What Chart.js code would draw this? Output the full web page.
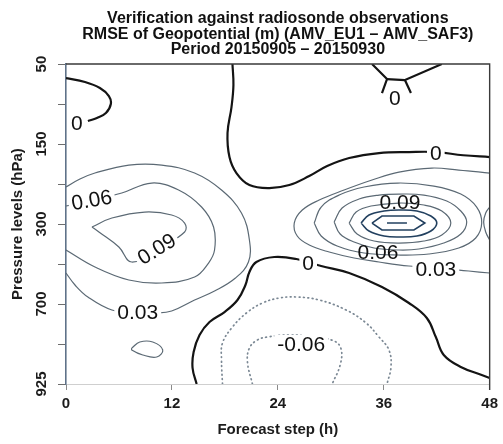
<!DOCTYPE html>
<html lang="en">
<head>
<meta charset="UTF-8">
<title>RMSE of Geopotential - AMV_EU1 vs AMV_SAF3</title>
<style>
  body { margin: 0; background: #fff; }
  #wrap { width: 503px; height: 444px; }
</style>
</head>
<body>
<div id="wrap"><canvas id="rmseChart"></canvas></div>
<script src="https://cdn.jsdelivr.net/npm/chart.js"></script>
<script>
// axes: forecast step in hours, pressure levels as an index (0 = 50 hPa at the top)
const stepTicks = [0, 12, 24, 36, 48];
const levelLabels = ['50', '', '150', '', '300', '', '700', '', '925'];

// contour lines, each point is [forecast step, level index]
const zeroTopLeft = [[0, 0.35], [2.15, 0.45], [3.84, 0.6], [4.86, 0.8], [5.08, 1.0], [4.52, 1.225], [3.5, 1.35], [2.48, 1.425]];
const zeroTop = [[18.86, 0], [18.97, 0.525], [18.75, 1.075], [18.3, 1.725], [18.52, 2.325], [19.31, 2.725], [20.78, 3.025],
  [23.04, 3.1], [25.3, 3.025], [27.56, 2.8], [29.59, 2.55], [32.08, 2.35], [35.46, 2.225], [38.85, 2.2], [41.9, 2.2],
  [45, 2.28], [48, 2.325]];
const zeroCapLeft = [[34.67, 0], [36.37, 0.375], [35.8, 0.725]];
const zeroCapBar = [[36.37, 0.375], [38.4, 0.4]];
const zeroCapRight = [[39.08, 0.725], [38.4, 0.4], [42.58, 0]];
const zeroLower = [[14.8, 8], [14.34, 7.6], [14.46, 7.2], [15.13, 6.775], [16.26, 6.45], [17.96, 6.2], [19.43, 5.9],
  [20.33, 5.525], [20.78, 5.2], [21.57, 4.95], [23.6, 4.825], [26.09, 4.875], [28.91, 5.05], [32.08, 5.225],
  [35.8, 5.575], [38.85, 5.975], [40.88, 6.35], [41.9, 6.825], [42.8, 7.275], [44.73, 7.575], [47.1, 7.775], [48, 7.85]];

const left03 = [[0, 3.075], [1.58, 2.875], [3.28, 2.725], [7.12, 2.525], [10.84, 2.525], [14.57, 2.725], [17.62, 3.15],
  [19.88, 3.725], [20.78, 4.4], [20.67, 4.95], [19.2, 5.35], [16.83, 5.675], [14.57, 5.9], [11.97, 6.175],
  [10.05, 6.225], [8.13, 6.225], [5.2, 6.15], [2.48, 5.825], [1.02, 5.525], [0, 5.225]];
const left06 = [[0, 3.55], [3.16, 3.4], [6.32, 3.225], [9.71, 2.975], [12.76, 3.15], [15.36, 3.575], [16.72, 4.075],
  [16.83, 4.65], [16.15, 4.975], [14.57, 5.325], [10.84, 5.475], [7.12, 5.4], [3.28, 5.075], [0, 4.65]];
const left09 = [[2.94, 4.075], [5.2, 3.85], [8.92, 3.7], [11.97, 3.775], [13.44, 3.975], [13.44, 4.2], [10.62, 4.6],
  [7.45, 4.95], [5.99, 4.575], [3.73, 4.2], [2.94, 4.075]];
const leftBlob = [[7.45, 7.1], [8.36, 6.95], [9.83, 6.95], [10.96, 7.15], [10.28, 7.325], [8.7, 7.275], [7.45, 7.15], [7.45, 7.1]];

const right03 = [[48, 2.725], [44.5, 2.65], [41.45, 2.6], [37.72, 2.7], [34.67, 2.9], [31.51, 3.15], [28.69, 3.4],
  [26.77, 3.65], [25.86, 3.975], [26.2, 4.3], [27.56, 4.525], [29.82, 4.7], [32.64, 4.85], [35.46, 4.95],
  [38.85, 5.05], [42.24, 5.1], [45.63, 5.175], [48, 5.225]];
const ring06 = [[28.12, 3.975], [28.91, 3.575], [30.95, 3.275], [33.77, 3.075], [37.61, 2.975], [41.68, 3.05], [44.73, 3.25],
  [46.53, 3.575], [47.1, 3.975], [46.42, 4.35], [44.5, 4.6], [41.11, 4.75], [37.61, 4.775], [33.77, 4.725],
  [30.72, 4.55], [28.91, 4.3], [28.12, 3.975]];
const ring09 = [[30.38, 3.95], [31.28, 3.6], [33.2, 3.375], [35.46, 3.275], [37.72, 3.25], [40.55, 3.275], [43.14, 3.425],
  [44.73, 3.675], [45.4, 3.95], [44.73, 4.25], [42.8, 4.475], [39.98, 4.625], [37.72, 4.65], [34.9, 4.6],
  [32.64, 4.45], [31.06, 4.25], [30.38, 3.95]];
const ring12 = [[32.08, 3.975], [32.87, 3.7], [34.56, 3.55], [37.72, 3.475], [40.55, 3.525], [42.58, 3.675], [43.6, 3.975],
  [42.58, 4.275], [40.55, 4.425], [37.72, 4.475], [34.9, 4.425], [32.98, 4.25], [32.08, 3.975]];
const ring15 = [[33.43, 3.975], [34.33, 3.775], [36.03, 3.675], [37.72, 3.65], [39.76, 3.675], [41.34, 3.8], [42.01, 3.975],
  [41.34, 4.175], [39.76, 4.3], [37.72, 4.325], [36.03, 4.3], [34.33, 4.175], [33.43, 3.975]];
const ring18 = [[34.67, 3.975], [35.8, 3.8], [39.42, 3.8], [40.66, 3.975], [39.42, 4.15], [35.8, 4.15], [34.67, 3.975]];
const ring21 = [[36.37, 3.975], [38.63, 3.975]];
const rightEdge = [[48, 3.575], [47.55, 3.725], [47.32, 3.95], [47.55, 4.2], [48, 4.4]];

const neg03 = [[17.73, 8], [17.62, 7.4], [17.73, 6.975], [18.86, 6.575], [20.44, 6.225], [22.25, 5.975], [24.17, 5.85],
  [26.09, 5.825], [28.69, 5.9], [31.74, 6.15], [34, 6.475], [35.46, 6.825], [36.59, 7.15], [36.82, 7.575], [36.37, 8]];
const neg06 = [[21.12, 8], [20.56, 7.45], [20.78, 7.1], [21.68, 6.9], [22.81, 6.825], [25.3, 6.775], [28.12, 6.825],
  [30.38, 6.925], [31.17, 7.125], [31.06, 7.525], [30.16, 8]];

// contour value of every line
const contours = [
  [0, zeroTopLeft], [0, zeroTop], [0, zeroCapLeft], [0, zeroCapBar], [0, zeroCapRight], [0, zeroLower],
  [0.03, left03], [0.06, left06], [0.09, left09], [0.03, leftBlob],
  [0.03, right03], [0.06, ring06], [0.09, ring09], [0.12, ring12], [0.15, ring15], [0.18, ring18], [0.21, ring21],
  [0.03, rightEdge], [-0.03, neg03], [-0.06, neg06]
];
// straight segments (hexagon and the small cap near the top)
const straight = [zeroCapLeft, zeroCapBar, zeroCapRight, ring18, ring21];

// inline labels: text, step, level index, angle (deg), cut the line under it
const contourLabels = [
  ['0', 1.24, 1.475, 0, true],
  ['0', 37.27, 0.85, 0, true],
  ['0', 41.9, 2.225, 0, true],
  ['0', 27.44, 4.975, 0, true],
  ['0.06', 2.9, 3.4, -10, true],
  ['0.09', 10.28, 4.625, -32, true],
  ['0.03', 8.13, 6.2, 0, true],
  ['0.09', 37.83, 3.45, 0, false],
  ['0.06', 35.35, 4.7, 0, false],
  ['0.03', 41.9, 5.125, 0, true],
  ['-0.06', 26.65, 7.0, 0, true]
];

const FONT = "'Liberation Sans', Arial, Helvetica, sans-serif";

function lineStyle(level) {
  if (level === 0) return { color: '#141414', width: 2.2, dash: [] };
  if (level < 0) return { color: '#7b8894', width: 1.7, dash: [0.8, 3.6] };
  if (level >= 0.15) return { color: '#22405f', width: 1.6, dash: [] };
  return { color: '#5b6974', width: 1.2, dash: [] };
}

const datasets = contours.map(([level, pts]) => {
  const s = lineStyle(level);
  return {
    data: pts.map(([x, y]) => ({ x, y })),
    showLine: true,
    borderColor: s.color,
    borderWidth: s.width,
    borderDash: s.dash,
    borderCapStyle: level < 0 ? 'round' : 'butt',
    pointRadius: 0,
    tension: straight.includes(pts) ? 0 : 0.4
  };
});

// text labels sitting on the contours
const contourLabelPlugin = {
  id: 'contourLabels',
  afterDatasetsDraw(chart) {
    const { ctx, scales: { x, y } } = chart;
    ctx.save();
    ctx.font = '21px ' + FONT;
    ctx.textAlign = 'center';
    ctx.textBaseline = 'middle';
    contourLabels.forEach(([text, sx, ly, angle, cut]) => {
      ctx.save();
      ctx.translate(x.getPixelForValue(sx), y.getPixelForValue(ly));
      ctx.rotate(angle * Math.PI / 180);
      if (cut) {
        const w = ctx.measureText(text).width;
        ctx.fillStyle = '#fff';
        ctx.fillRect(-w / 2 - 3, -9, w + 6, 18);
      }
      ctx.fillStyle = '#111';
      ctx.fillText(text, 0, 1);
      ctx.restore();
    });
    ctx.restore();
  }
};

// rotated pressure labels and the top/right frame
const framePlugin = {
  id: 'frame',
  afterDraw(chart) {
    const { ctx, chartArea: a, scales: { y } } = chart;
    ctx.save();
    ctx.strokeStyle = '#3a3a3a';
    ctx.lineWidth = 1.4;
    ctx.beginPath();
    ctx.moveTo(a.left, a.top);
    ctx.lineTo(a.right, a.top);
    ctx.lineTo(a.right, a.bottom + 6);
    ctx.stroke();

    ctx.font = 'bold 15px ' + FONT;
    ctx.fillStyle = '#1c1c1c';
    ctx.textAlign = 'center';
    ctx.textBaseline = 'middle';
    levelLabels.forEach((lab, i) => {
      if (!lab) return;
      ctx.save();
      ctx.translate(42, y.getPixelForValue(i));
      ctx.rotate(-Math.PI / 2);
      ctx.fillText(lab, 0, 0);
      ctx.restore();
    });
    ctx.restore();
  }
};

new Chart(document.getElementById('rmseChart'), {
  type: 'scatter',
  data: { datasets },
  options: {
    responsive: true,
    maintainAspectRatio: false,
    animation: false,
    events: [],
    layout: { padding: { left: 0, right: 12, top: 0, bottom: 0 } },
    plugins: {
      legend: { display: false },
      tooltip: { enabled: false },
      title: {
        display: true,
        fullSize: false,
        text: [
          'Verification against radiosonde observations',
          'RMSE of Geopotential (m) (AMV_EU1 \u2013 AMV_SAF3)',
          'Period 20150905 \u2013 20150930'
        ],
        color: '#111',
        font: { family: FONT, size: 16, weight: 'bold', lineHeight: 0.97 },
        padding: { top: 11, bottom: 6.5 }
      }
    },
    scales: {
      x: {
        type: 'linear',
        min: 0,
        max: 48,
        afterBuildTicks: (s) => { s.ticks = stepTicks.map(v => ({ value: v })); },
        afterFit: (s) => { s.height = 60; },
        ticks: { color: '#1c1c1c', padding: 5, font: { family: FONT, size: 15, weight: 'bold' } },
        grid: { drawOnChartArea: false, tickLength: 6, color: '#8a8a8a' },
        border: { color: '#cfcfcf', width: 1 },
        title: {
          display: true,
          text: 'Forecast step (h)',
          color: '#1c1c1c',
          font: { family: FONT, size: 15, weight: 'bold' },
          padding: { top: 0, bottom: 5 }
        }
      },
      y: {
        type: 'linear',
        min: 0,
        max: levelLabels.length - 1,
        reverse: true,
        afterFit: (s) => { s.width = 66; },
        ticks: { stepSize: 1, callback: () => '' },
        grid: { drawOnChartArea: false, tickLength: 8, color: '#6d6d6d' },
        border: { color: '#5f7289', width: 1.6 },
        title: {
          display: true,
          text: 'Pressure levels (hPa)',
          color: '#1c1c1c',
          font: { family: FONT, size: 15, weight: 'bold' },
          padding: { top: 8.5, bottom: 0 }
        }
      }
    }
  },
  plugins: [contourLabelPlugin, framePlugin]
});
</script>
</body>
</html>
